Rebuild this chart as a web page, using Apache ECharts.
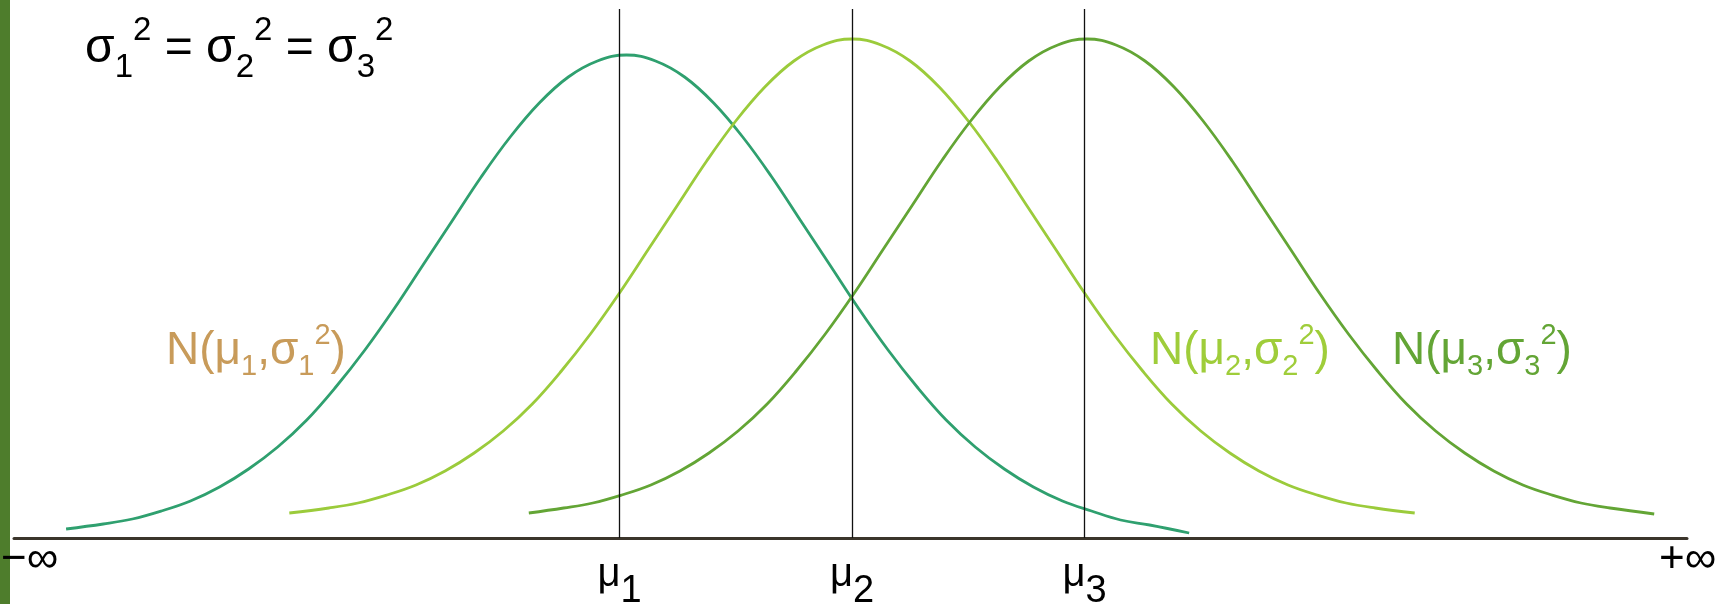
<!DOCTYPE html>
<html>
<head>
<meta charset="utf-8">
<script src="https://cdn.jsdelivr.net/npm/echarts@6/dist/echarts.min.js"></script>
<style>
html, body { margin: 0; padding: 0; background: #fff; }
#chart { width: 1729px; height: 604px; }
</style>
</head>
<body>
<div id="chart"></div>
<script>
// x axis in units where mu2 = 0 and the mu's are one unit apart
var muValues = [-1, 0, 1];
var muSubs = ['1', '2', '3'];

// curve points (y = height above the axis line)
var curve1X = [-3.38, -3.22, -3.095, -2.97, -2.845, -2.72, -2.595, -2.47, -2.345, -2.22, -2.095, -1.97, -1.845, -1.72, -1.595, -1.47, -1.345, -1.22, -1.095, -0.97,
  -0.845, -0.72, -0.595, -0.47, -0.345, -0.22, -0.095, 0.03, 0.155, 0.28, 0.405, 0.53, 0.655, 0.78, 0.905, 1.03, 1.155, 1.28, 1.45];
var curve1Y = [9, 14, 19, 27, 37, 51, 69, 91, 118, 151, 188, 229, 273, 317, 361, 401, 435, 461, 477, 483,
  477, 461, 435, 401, 361, 317, 273, 229, 188, 151, 118, 91, 69, 51, 37, 27, 18, 13, 5];

var curve2X = [-2.42, -2.25, -2.125, -2, -1.875, -1.75, -1.625, -1.5, -1.375, -1.25, -1.125, -1, -0.875, -0.75, -0.625, -0.5, -0.375, -0.25, -0.125, 0,
  0.125, 0.25, 0.375, 0.5, 0.625, 0.75, 0.875, 1, 1.125, 1.25, 1.375, 1.5, 1.625, 1.75, 1.875, 2, 2.125, 2.25, 2.42];
var curve2Y = [25, 30, 35, 43, 53, 67, 85, 107, 134, 167, 204, 245, 289, 333, 377, 417, 451, 477, 493, 499,
  493, 477, 451, 417, 377, 333, 289, 245, 204, 167, 134, 107, 85, 67, 53, 43, 35, 30, 25];

var curve3X = [-1.39, -1.24, -1.115, -0.99, -0.865, -0.74, -0.615, -0.49, -0.365, -0.24, -0.115, 0.01, 0.135, 0.26, 0.385, 0.51, 0.635, 0.76, 0.885, 1.01,
  1.135, 1.26, 1.385, 1.51, 1.635, 1.76, 1.885, 2.01, 2.135, 2.26, 2.385, 2.51, 2.635, 2.76, 2.885, 3.01, 3.135, 3.26, 3.45];
var curve3Y = [25, 30, 35, 43, 53, 67, 85, 107, 134, 167, 204, 245, 289, 333, 377, 417, 451, 477, 493, 499,
  493, 477, 451, 417, 377, 333, 289, 245, 204, 167, 134, 107, 85, 67, 53, 43, 35, 30, 24];

var FONT = '"Liberation Sans", Arial, sans-serif';

function zip(xs, ys) {
  return xs.map(function (x, i) { return [x, ys[i]]; });
}

function curveSeries(name, xs, ys, color) {
  return {
    name: name,
    type: 'line',
    data: zip(xs, ys),
    smooth: 0.4,
    showSymbol: false,
    silent: true,
    lineStyle: { color: color, width: 2.8 },
    z: 3
  };
}

// rich styles for the N(mu, sigma^2) labels (graphic text uses fill)
function nRich(color) {
  return {
    n: { fontSize: 46, lineHeight: 60, fontFamily: FONT, fill: color },
    b: { fontSize: 29, lineHeight: 35, verticalAlign: 'bottom', fontFamily: FONT, fill: color },
    p: { fontSize: 29, lineHeight: 60, verticalAlign: 'top', fontFamily: FONT, fill: color }
  };
}

function nLabel(left, k, color) {
  return {
    type: 'text',
    x: left,
    y: 321,
    z: 10,
    style: {
      text: '{n|N(μ}{b|' + k + '}{n|,σ}{b|' + k + '}{p|2}{n|)}',
      rich: nRich(color),
      fill: color,
      verticalAlign: 'top',
      align: 'left'
    }
  };
}

var chart = echarts.init(document.getElementById('chart'));

var option = {
  animation: false,
  backgroundColor: '#ffffff',
  title: {
    left: 85,
    top: 14,
    padding: 0,
    text: '{m|σ}{b|1}{p|2}{m| = σ}{b|2}{p|2}{m| = σ}{b|3}{p|2}',
    textStyle: {
      fontWeight: 'normal',
      rich: {
        m: { fontSize: 48, lineHeight: 70, fontWeight: 'normal', fontFamily: FONT, color: '#000' },
        b: { fontSize: 33, lineHeight: 46, verticalAlign: 'bottom', fontWeight: 'normal', fontFamily: FONT, color: '#000' },
        p: { fontSize: 33, lineHeight: 40, verticalAlign: 'top', fontWeight: 'normal', fontFamily: FONT, color: '#000' }
      }
    }
  },
  grid: {
    left: 14,
    right: 42,
    top: 9,
    bottom: 66,
    outerBoundsMode: 'none',
    containLabel: false
  },
  xAxis: {
    type: 'value',
    min: -3.604,
    max: 3.591,
    splitLine: { show: false },
    axisTick: { show: false },
    axisLine: { show: true, onZero: false, lineStyle: { color: '#3b352b', width: 3 } },
    axisLabel: {
      show: true,
      customValues: muValues,
      margin: 0,
      formatter: function (v) {
        var i = muValues.indexOf(v);
        return '{m|μ}{b|' + muSubs[i] + '}';
      },
      rich: {
        m: { fontSize: 40, lineHeight: 73, fontFamily: FONT, color: '#000' },
        b: { fontSize: 38, lineHeight: 44, verticalAlign: 'bottom', fontFamily: FONT, color: '#000' }
      }
    }
  },
  yAxis: {
    type: 'value',
    min: 0,
    max: 529,
    show: false
  },
  series: [
    curveSeries('N1', curve1X, curve1Y, '#2fa06f'),
    curveSeries('N2', curve2X, curve2Y, '#9bcb3b'),
    curveSeries('N3', curve3X, curve3Y, '#63a535'),
    {
      name: 'mu lines',
      type: 'line',
      data: [],
      silent: true,
      markLine: {
        silent: true,
        symbol: ['none', 'none'],
        label: { show: false },
        lineStyle: { color: '#111111', width: 1.3, type: 'solid' },
        data: muValues.map(function (v) { return { xAxis: v }; })
      },
      z: 4
    }
  ],
  graphic: [
    {
      type: 'rect',
      shape: { x: 0, y: 0, width: 10, height: 604 },
      style: { fill: '#4e7d2c' },
      z: 5
    },
    nLabel(166, '1', '#c89b5a'),
    nLabel(1150, '2', '#9fcd3a'),
    nLabel(1392, '3', '#63a535'),
    {
      type: 'text',
      x: 58,
      y: 560,
      z: 10,
      style: {
        text: '−∞',
        font: '44px ' + FONT,
        fill: '#000',
        align: 'right',
        verticalAlign: 'middle'
      }
    },
    {
      type: 'text',
      x: 1659,
      y: 560,
      z: 10,
      style: {
        text: '+∞',
        font: '44px ' + FONT,
        fill: '#000',
        align: 'left',
        verticalAlign: 'middle'
      }
    }
  ]
};

chart.setOption(option);
window.onresize = chart.resize;
</script>
</body>
</html>
